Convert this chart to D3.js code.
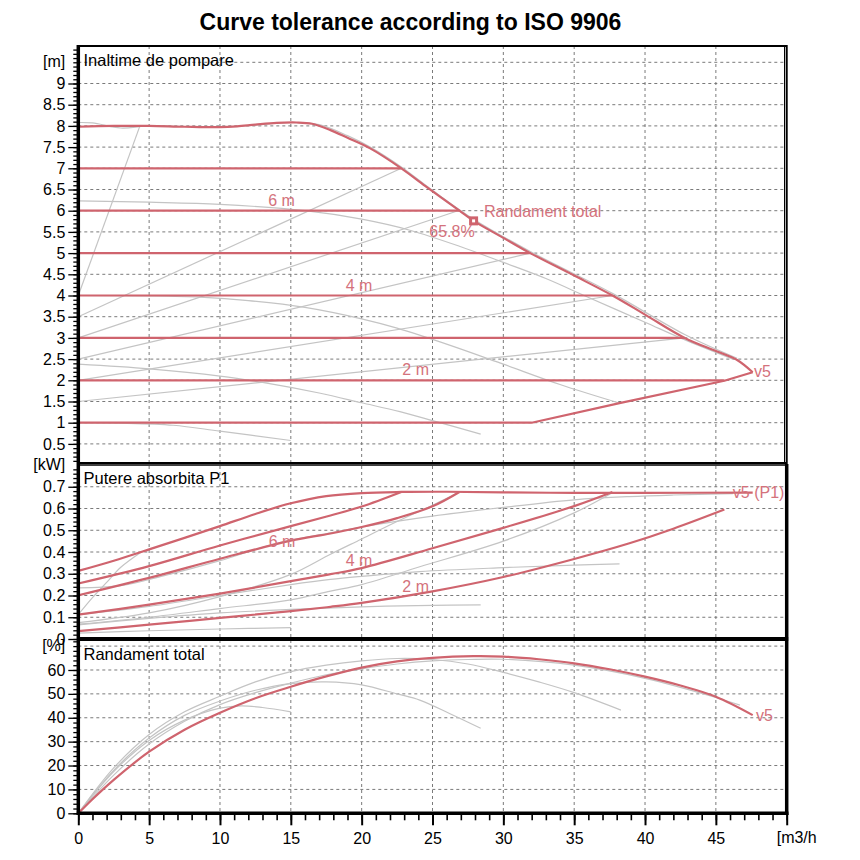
<!DOCTYPE html>
<html>
<head>
<meta charset="utf-8">
<script src="https://cdn.jsdelivr.net/npm/d3@7"></script>
<style>
  body { margin: 0; background: #fff; }
  svg { font-family: "Liberation Sans", Arial, sans-serif; }
</style>
</head>
<body>
<svg id="chart" width="860" height="860"></svg>
<script>
// ---- tick labels ----
const flowTicks = [0, 5, 10, 15, 20, 25, 30, 35, 40, 45];
const headTicks = [0.5, 1, 1.5, 2, 2.5, 3, 3.5, 4, 4.5, 5, 5.5, 6, 6.5, 7, 7.5, 8, 8.5, 9];
const powerTicks = [0, 0.1, 0.2, 0.3, 0.4, 0.5, 0.6, 0.7];
const effTicks = [0, 10, 20, 30, 40, 50, 60];

// ---- Inaltime de pompare (H, m) ----
// v5 max curve
const hV5Q = [0, 2.5, 5, 7.5, 10, 11.2, 12.5, 14, 15.4, 16.5, 17.8, 19, 20.6, 22.8, 24.5, 26.9, 27.9, 30, 31.9, 35, 37.7, 40, 42.8, 45, 46.5, 47.6];
const hV5H = [7.98, 8.0, 8.0, 7.98, 7.97, 7.99, 8.03, 8.07, 8.08, 8.05, 7.9, 7.72, 7.47, 7.0, 6.58, 6.0, 5.76, 5.36, 5.0, 4.47, 4.0, 3.55, 3.0, 2.69, 2.48, 2.19];
// min curve back from v5
const hMinQ = [0, 32, 38.2, 45.6, 47.6];
const hMinH = [1.0, 1.0, 1.46, 1.99, 2.19];
// constant pressure lines
const cpLevelH = [2, 3, 4, 5, 6, 7];
const cpEndQ = [45.6, 42.8, 37.7, 31.9, 26.9, 22.8];
// grey reference curves
const hGrayMaxQ = [0, 1, 3, 5, 10, 12.5, 15, 17, 19, 20.6, 22.8, 25, 27.9, 32, 37.7, 42.8, 46.5];
const hGrayMaxH = [8.08, 8.07, 7.95, 8.0, 7.97, 8.02, 8.08, 8.03, 7.77, 7.5, 7.03, 6.48, 5.8, 5.02, 4.05, 3.08, 2.52];
const hSteepQ = [0, 4.35];
const hSteepH = [4.0, 8.0];
const sysStartH = [3.5, 3.0, 2.5, 2.0, 1.5];
const sysEndQ = [22.8, 26.8, 31.9, 37.7, 42.8];
const sysEndH = [7, 6, 5, 4, 3];
const hFQ = [0, 5, 10, 16, 20, 23.4, 27, 30, 33, 35.9, 40, 42.7, 46.2];
const hFH = [6.23, 6.2, 6.15, 6.0, 5.8, 5.54, 5.15, 4.78, 4.4, 3.97, 3.37, 2.97, 2.5];
const hGQ = [0, 5, 8.6, 12, 16, 20, 22.5, 26.2, 30, 34, 38.2];
const hGH = [4.0, 3.99, 3.96, 3.88, 3.72, 3.45, 3.23, 2.83, 2.38, 1.9, 1.46];
const hHQ = [0, 5, 10, 13, 17, 20, 22.7, 25, 28.4];
const hHH = [2.38, 2.27, 2.1, 1.95, 1.7, 1.47, 1.26, 1.05, 0.73];
const hIQ = [0, 3, 6.7, 10, 15];
const hIH = [1.0, 0.99, 0.94, 0.8, 0.58];
// best efficiency point
const bepQ = 27.9, bepH = 5.76;

// ---- Putere absorbita P1 (kW) ----
const pV5Q = [0, 2.5, 5, 7.5, 10, 12.5, 15, 17.5, 20, 22.8, 26, 30, 35, 40, 47.6];
const pV5P = [0.313, 0.36, 0.412, 0.465, 0.519, 0.575, 0.624, 0.657, 0.671, 0.676, 0.677, 0.674, 0.672, 0.672, 0.673];
const p7Q = [0, 5, 10, 15, 17.8, 20, 22.8];
const p7P = [0.255, 0.335, 0.43, 0.519, 0.568, 0.609, 0.676];
const p6Q = [0, 5, 10, 15, 17.8, 20, 22.5, 25, 26.9];
const p6P = [0.201, 0.281, 0.369, 0.452, 0.485, 0.515, 0.556, 0.61, 0.676];
const p4Q = [0, 5, 10, 15, 17.8, 20, 25, 30, 35, 37.7];
const p4P = [0.112, 0.158, 0.209, 0.266, 0.298, 0.326, 0.417, 0.511, 0.611, 0.676];
const p2Q = [0, 5, 10, 15, 17.8, 20, 25, 30, 35, 38.9, 42, 45.6];
const p2P = [0.036, 0.066, 0.097, 0.128, 0.148, 0.166, 0.219, 0.285, 0.368, 0.44, 0.507, 0.595];
const pSteepQ = [0, 1, 2, 3, 4.4];
const pSteepP = [0.112, 0.19, 0.26, 0.33, 0.398];
const pFQ = [0, 3, 6, 10, 14, 17.8, 20, 25, 30, 35, 38.9, 42, 46.2];
const pFP = [0.235, 0.245, 0.29, 0.36, 0.44, 0.488, 0.515, 0.565, 0.605, 0.64, 0.655, 0.662, 0.668];
const pGQ = [0, 5, 10, 15, 17.8, 20, 24.1, 30, 35, 38.2];
const pGP = [0.112, 0.15, 0.2, 0.25, 0.274, 0.288, 0.31, 0.328, 0.34, 0.345];
const pHQ = [0, 5, 10, 15, 20, 25, 28.4];
const pHP = [0.065, 0.095, 0.12, 0.136, 0.148, 0.155, 0.157];
const pIQ = [0, 5, 10, 15];
const pIP = [0.027, 0.038, 0.046, 0.052];
const pSysBQ = [0, 5, 10, 15, 17.8, 20, 22.5, 25, 26.8];
const pSysBP = [0.075, 0.12, 0.195, 0.297, 0.39, 0.46, 0.54, 0.615, 0.672];
const pSysDQ = [0, 5, 10, 15, 17.8, 20, 24.1, 30, 35, 37.7];
const pSysDP = [0.068, 0.1, 0.14, 0.18, 0.22, 0.25, 0.332, 0.45, 0.58, 0.672];

// ---- Randament total (%) ----
const eV5Q = [0, 1, 2.5, 5, 7.5, 10, 12.5, 15, 17.5, 20, 22.5, 25, 27.9, 30, 32.5, 35, 37.5, 40, 42.5, 45, 47.6];
const eV5E = [0, 5.9, 14, 25.8, 35, 42.1, 48.2, 53, 57.3, 61, 63.6, 65.1, 65.8, 65.6, 64.5, 62.8, 60.3, 57.2, 53.5, 48.8, 41.1];
const eFQ = [0, 2.5, 5, 7.5, 10, 12.5, 15, 17.5, 20, 22.5, 25, 27.5, 30, 35, 40, 45, 46.7];
const eFE = [0, 16, 29, 38.5, 45.5, 50.5, 54.5, 58, 60.5, 62.5, 63.8, 64.4, 64.5, 62, 56.5, 48.5, 45.3];
const eGQ = [0, 2.5, 5, 7.5, 10, 12.5, 15, 17.5, 20, 22.5, 25, 27.5, 30, 32.5, 35, 38.3];
const eGE = [0, 19, 33, 42.5, 49, 55, 59.3, 62, 63.8, 64.8, 64.4, 62.5, 59, 55, 50.5, 43.2];
const eHQ = [0, 2.5, 5, 7.5, 10, 12.5, 15, 17.5, 20, 22.5, 24.1, 26.2, 28.4];
const eHE = [0, 18, 31.5, 41, 47, 51.5, 54.3, 55, 53.8, 50, 47.4, 41.8, 35.6];
const eIQ = [0, 2.5, 5, 7.5, 10, 11.5, 13, 15];
const eIE = [0, 17.5, 30.5, 39, 44, 45, 44.3, 42.5];

// ---- labels on the curves ----
const headLabels = [
  { text: "6 m", q: 13.4, v: 6.12 },
  { text: "4 m", q: 18.87, v: 4.11 },
  { text: "2 m", q: 22.87, v: 2.12 },
  { text: "Randament total", q: 28.63, v: 5.84 },
  { text: "65.8%", q: 24.77, v: 5.39 },
  { text: "v5", q: 47.69, v: 2.07 }
];
const powerLabels = [
  { text: "6 m", q: 13.44, v: 0.424 },
  { text: "4 m", q: 18.87, v: 0.336 },
  { text: "2 m", q: 22.87, v: 0.218 },
  { text: "v5 (P1)", q: 46.2, v: 0.647 }
];
const effLabels = [
  { text: "v5", q: 47.83, v: 38.8 }
];

// ---- layout ----
const red = "#cf646e", redText = "#d4727c", grey = "#c4c4c4";
const smooth = d3.curveCatmullRom.alpha(0.5);
const svg = d3.select("#chart");

const x = d3.scaleLinear().domain([0, 50]).range([78.3, 786.7]);
const yHead = d3.scaleLinear().domain([0, 10]).range([465.1, 41.1]);
const yPower = d3.scaleLinear().domain([0, 0.8]).range([639, 465]);
const yEff = d3.scaleLinear().domain([0, 70]).range([813.3, 646.1]);

const panels = [
  { id: "head", y: yHead, top: 46, bottom: 463.5 },
  { id: "power", y: yPower, top: 465, bottom: 639 },
  { id: "eff", y: yEff, top: 639, bottom: 813.3 }
];

// title
svg.append("text")
  .attr("x", 410.5).attr("y", 30)
  .attr("text-anchor", "middle")
  .style("font-size", "23px").style("font-weight", "bold")
  .text("Curve tolerance according to ISO 9906");

// clip paths
const defs = svg.append("defs");
panels.forEach(p => {
  defs.append("clipPath").attr("id", "clip-" + p.id)
    .append("rect")
    .attr("x", x(0)).attr("y", p.top)
    .attr("width", x(50) - x(0)).attr("height", p.bottom - p.top);
});

// grid
const grid = svg.append("g").attr("stroke", "#7a7a7a").attr("stroke-dasharray", "3,3").attr("stroke-width", 1);
flowTicks.filter(d => d > 0).forEach(q => {
  grid.append("line").attr("x1", x(q)).attr("x2", x(q)).attr("y1", 46).attr("y2", 813);
});
const hGrid = [[yHead, headTicks.concat([9.5])], [yPower, powerTicks.slice(1)], [yEff, effTicks.slice(1).concat([70])]];
hGrid.forEach(([y, vals]) => {
  vals.forEach(v => {
    grid.append("line").attr("x1", x(0)).attr("x2", x(50)).attr("y1", y(v)).attr("y2", y(v));
  });
});

function drawLine(g, y, qs, vs, color, width, curve) {
  g.append("path")
    .datum(d3.zip(qs, vs))
    .attr("fill", "none")
    .attr("stroke", color)
    .attr("stroke-width", width)
    .attr("stroke-linejoin", "round")
    .attr("d", d3.line().x(d => x(d[0])).y(d => y(d[1])).curve(curve || smooth));
}

// 1) Inaltime de pompare
const gH = svg.append("g").attr("clip-path", "url(#clip-head)");
drawLine(gH, yHead, hGrayMaxQ, hGrayMaxH, grey, 1.2);
drawLine(gH, yHead, hSteepQ, hSteepH, grey, 1.2, d3.curveLinear);
sysStartH.forEach((h0, i) => {
  drawLine(gH, yHead, [0, sysEndQ[i]], [h0, sysEndH[i]], grey, 1.2, d3.curveLinear);
});
[[hFQ, hFH], [hGQ, hGH], [hHQ, hHH], [hIQ, hIH]].forEach(([qs, hs]) => drawLine(gH, yHead, qs, hs, grey, 1.2));
cpLevelH.forEach((h, i) => {
  drawLine(gH, yHead, [0, cpEndQ[i]], [h, h], red, 2.2, d3.curveLinear);
});
drawLine(gH, yHead, hMinQ, hMinH, red, 2.2, d3.curveLinear);
drawLine(gH, yHead, hV5Q, hV5H, red, 2.2);

// best efficiency marker
gH.append("rect")
  .attr("x", x(bepQ) - 4.5).attr("y", yHead(bepH) - 4.5)
  .attr("width", 9).attr("height", 9).attr("fill", red);
gH.append("rect")
  .attr("x", x(bepQ) - 1.5).attr("y", yHead(bepH) - 1.5)
  .attr("width", 3).attr("height", 3).attr("fill", "#fff");

// 2) Putere absorbita P1
const gP = svg.append("g").attr("clip-path", "url(#clip-power)");
[[pSteepQ, pSteepP], [pFQ, pFP], [pGQ, pGP], [pHQ, pHP], [pIQ, pIP], [pSysBQ, pSysBP], [pSysDQ, pSysDP]]
  .forEach(([qs, ps]) => drawLine(gP, yPower, qs, ps, grey, 1.2));
[[p7Q, p7P], [p6Q, p6P], [p4Q, p4P], [p2Q, p2P], [pV5Q, pV5P]]
  .forEach(([qs, ps]) => drawLine(gP, yPower, qs, ps, red, 2.2));

// 3) Randament total
const gE = svg.append("g").attr("clip-path", "url(#clip-eff)");
[[eFQ, eFE], [eGQ, eGE], [eHQ, eHE], [eIQ, eIE]]
  .forEach(([qs, es]) => drawLine(gE, yEff, qs, es, grey, 1.2));
drawLine(gE, yEff, eV5Q, eV5E, red, 2.2);

// curve labels
[[headLabels, yHead], [powerLabels, yPower], [effLabels, yEff]].forEach(([labels, y]) => {
  svg.append("g").selectAll("text")
    .data(labels)
    .enter()
    .append("text")
    .attr("x", d => x(d.q))
    .attr("y", d => y(d.v))
    .attr("fill", redText)
    .style("font-size", "16px")
    .text(d => d.text);
});

// panel titles
[["Inaltime de pompare", 65.7], ["Putere absorbita P1", 484], ["Randament total", 660]].forEach(([t, by]) => {
  svg.append("text").attr("x", 83.5).attr("y", by).style("font-size", "16.5px").text(t);
});

// left axes with minor ticks
const axisSets = [
  { y: yHead, major: headTicks, minor: d3.range(1, 99).map(i => i / 10), unit: "[m]", unitAt: 9.5 },
  { y: yPower, major: powerTicks, minor: d3.range(0, 40).map(i => i / 50), unit: "[kW]", unitAt: 0.8 },
  { y: yEff, major: effTicks, minor: d3.range(0, 37).map(i => i * 2), unit: "[%]", unitAt: 70 }
];
axisSets.forEach(a => {
  svg.append("g")
    .attr("transform", `translate(${x(0)},0)`)
    .call(d3.axisLeft(a.y).tickValues(a.minor).tickSize(5).tickFormat(""))
    .call(g => g.select(".domain").remove())
    .call(g => g.selectAll("line").attr("stroke", "#000").attr("stroke-width", 1.3));
  svg.append("g")
    .attr("transform", `translate(${x(0)},0)`)
    .call(d3.axisLeft(a.y).tickValues(a.major).tickSize(10).tickPadding(3).tickFormat(d => String(d)))
    .call(g => g.select(".domain").remove())
    .call(g => g.selectAll("line").attr("stroke", "#000").attr("stroke-width", 1.3))
    .call(g => g.selectAll("text").attr("fill", "#000")
      .style("font-size", "16px").style("font-family", "'Liberation Sans', Arial, sans-serif"));
  svg.append("text")
    .attr("x", x(0) - 13).attr("y", a.y(a.unitAt))
    .attr("dy", "0.32em")
    .attr("text-anchor", "end")
    .style("font-size", "16px")
    .text(a.unit);
});

// bottom axis
svg.append("g")
  .attr("transform", `translate(0,${yEff(0)})`)
  .call(d3.axisBottom(x).tickValues(d3.range(0, 51)).tickSize(7).tickFormat(""))
  .call(g => g.select(".domain").remove())
  .call(g => g.selectAll("line").attr("stroke", "#000").attr("stroke-width", 1.6));
svg.append("g")
  .attr("transform", `translate(0,${yEff(0)})`)
  .call(d3.axisBottom(x).tickValues(flowTicks.concat([50])).tickSize(12).tickPadding(7)
    .tickFormat(d => d === 50 ? "" : String(d)))
  .call(g => g.select(".domain").remove())
  .call(g => g.selectAll("line").attr("stroke", "#000").attr("stroke-width", 2))
  .call(g => g.selectAll("text").attr("fill", "#000")
    .style("font-size", "16px").style("font-family", "'Liberation Sans', Arial, sans-serif"));
svg.append("text")
  .attr("x", x(50) - 10).attr("y", 843)
  .style("font-size", "16px")
  .text("[m3/h");

// panel frames
const frame = svg.append("g").attr("stroke", "#000").attr("fill", "none");
frame.append("rect").attr("x", x(0)).attr("y", 46).attr("width", x(50) - x(0)).attr("height", 417).attr("stroke-width", 2);
frame.append("line").attr("x1", x(50) - 2.2).attr("x2", x(50) - 2.2).attr("y1", 46).attr("y2", 463).attr("stroke-width", 1);
frame.append("line").attr("x1", x(0)).attr("x2", x(50)).attr("y1", 465).attr("y2", 465).attr("stroke-width", 1.5);
frame.append("line").attr("x1", x(0)).attr("x2", x(50) + 1.5).attr("y1", 639).attr("y2", 639).attr("stroke-width", 4);
frame.append("line").attr("x1", x(50)).attr("x2", x(50)).attr("y1", 464).attr("y2", 815).attr("stroke-width", 3.5);
frame.append("line").attr("x1", x(0) - 1.5).attr("x2", x(50) + 1.75).attr("y1", yEff(0)).attr("y2", yEff(0)).attr("stroke-width", 3.5);
frame.append("line").attr("x1", x(0)).attr("x2", x(0)).attr("y1", 45).attr("y2", 815).attr("stroke-width", 3.5);
</script>
</body>
</html>
